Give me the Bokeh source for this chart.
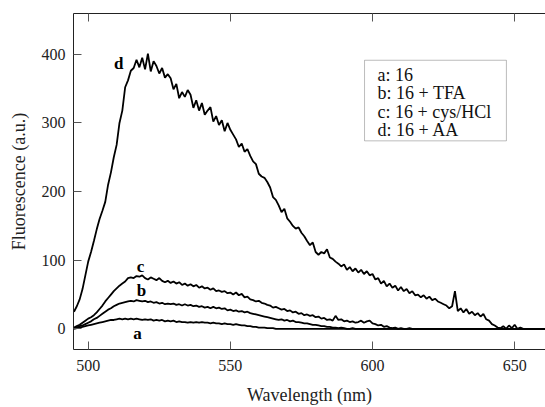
from bokeh.plotting import figure
from bokeh.models import (Range1d, LinearAxis, FixedTicker, Label, BoxAnnotation,
                          CustomLabelingPolicy)
from bokeh.embed import file_html
from bokeh.resources import INLINE

wavelength = list(range(495, 662))

curve_d = [
    25, 33, 43, 58, 78, 98, 112, 128, 145, 160,
    172, 185, 210, 228, 250, 268, 300, 318, 352, 362,
    376, 380, 392, 381, 395, 378, 401, 375, 390, 383,
    372, 380, 366, 371, 365, 349, 357, 336, 345, 338,
    348, 341, 322, 333, 318, 329, 312, 318, 323, 302,
    310, 297, 304, 288, 300, 290, 283, 276, 265, 270,
    258, 262, 252, 244, 240, 226, 222, 220, 214, 206,
    192, 188, 180, 170, 175, 161, 156, 150, 146, 148,
    140, 135, 128, 122, 126, 112, 108, 112, 110, 116,
    104, 102, 98, 95, 91, 94, 86, 90, 84, 88,
    82, 86, 80, 84, 78, 80, 72, 74, 66, 70,
    62, 66, 60, 63, 56, 61, 55, 58, 52, 55,
    49, 50, 46, 49, 44, 47, 42, 44, 40, 38,
    36, 34, 30, 33, 55, 26, 30, 24, 29, 22,
    25, 20, 23, 18, 22, 14, 12, 7, 5, 2,
    1, 4, 0, 5, 1, 6, 0, 2, 0, 0,
    0, 0, 0, 0, 0, 0, 0,
]

curve_c = [
    2, 4, 6, 9, 12, 15, 17, 20, 24, 29,
    34, 40, 45, 50, 55, 59, 63, 66, 69, 74,
    75, 74, 77, 76, 78, 74, 72, 75, 73, 71,
    74, 70, 68, 70, 67, 69, 66, 68, 64, 66,
    63, 65, 62, 64, 60, 62, 59, 60, 57, 59,
    55, 56, 54, 55, 52, 53, 50, 53, 49, 51,
    46, 47, 43, 42, 40, 41, 38, 37, 35, 34,
    31, 32, 30, 28, 29, 26, 27, 24, 25, 22,
    23, 20, 21, 19, 20, 17, 18, 15, 16, 13,
    14, 12, 19, 13, 14, 11, 12, 10, 11, 9,
    10, 12, 9, 11, 12, 8, 7, 5, 6, 3,
    4, 2, 1, 2, 0, 1, 0, 0, 1, 0,
    0, 0, 0, 0, 0, 0, 0, 0, 0, 0,
    0, 0, 0, 0, 0, 0, 0, 0, 0, 0,
    0, 0, 0, 0, 0, 0, 0, 0, 0, 0,
    0, 0, 0, 0, 0, 0, 0, 0, 0, 0,
    0, 0, 0, 0, 0, 0, 0,
]

curve_b = [
    1, 2, 4, 5, 7, 9, 11, 14, 16, 19,
    22, 25, 28, 30, 33, 35, 37, 38, 39, 40,
    41, 40, 42, 41, 40, 41, 39, 40, 38, 39,
    37, 38, 36, 37, 36, 37, 35, 36, 34, 36,
    34, 35, 33, 34, 32, 33, 31, 32, 30, 32,
    30, 31, 29, 30, 27, 28, 26, 27, 25, 26,
    24, 25, 23, 22, 21, 20, 19, 18, 17, 16,
    15, 14, 13, 14, 12, 13, 11, 12, 10, 10,
    9, 8, 8, 7, 6, 6, 5, 4, 4, 3,
    3, 2, 2, 1, 2, 1, 0, 0, 1, 0,
    0, 0, 0, 0, 0, 0, 0, 0, 0, 0,
    0, 0, 0, 0, 0, 0, 0, 0, 0, 0,
    0, 0, 0, 0, 0, 0, 0, 0, 0, 0,
    0, 0, 0, 0, 0, 0, 0, 0, 0, 0,
    0, 0, 0, 0, 0, 0, 0, 0, 0, 0,
    0, 0, 0, 0, 0, 0, 0, 0, 0, 0,
    0, 0, 0, 0, 0, 0, 0,
]

curve_a = [
    0, 1, 2, 3, 4, 5, 6, 7, 8, 9,
    10, 11, 12, 13, 13, 14, 15, 14, 15, 14,
    15, 14, 15, 14, 13, 14, 13, 14, 12, 13,
    12, 13, 11, 12, 11, 12, 10, 11, 10, 10,
    9, 10, 9, 10, 9, 10, 9, 9, 8, 9,
    8, 8, 7, 8, 7, 7, 6, 7, 6, 5,
    5, 4, 4, 3, 3, 2, 2, 2, 1, 1,
    1, 0, 0, 0, 0, 0, 0, 0, 0, 0,
    0, 0, 0, 0, 0, 0, 0, 0, 0, 0,
    0, 0, 0, 0, 0, 0, 0, 0, 0, 0,
    0, 0, 0, 0, 0, 0, 0, 0, 0, 0,
    0, 0, 0, 0, 0, 0, 0, 0, 0, 0,
    0, 0, 0, 0, 0, 0, 0, 0, 0, 0,
    0, 0, 0, 0, 0, 0, 0, 0, 0, 0,
    0, 0, 0, 0, 0, 0, 0, 0, 0, 0,
    0, 0, 0, 0, 0, 0, 0, 0, 0, 0,
    0, 0, 0, 0, 0, 0, 0,
]

x_ticks = [500, 550, 600, 650]
y_ticks = [0, 100, 200, 300, 400]

legend_lines = ["a: 16", "b: 16 + TFA", "c: 16 + cys/HCl", "d: 16 + AA"]
legend_y = [370.3, 343.2, 316.1, 289.0]

curve_names = ["a", "b", "c", "d"]
curve_label_x = [517.3, 518.7, 518.4, 510.7]
curve_label_y = [-7, 56.5, 91, 387]

FONT = "Liberation Serif"

p = figure(width=545, height=407, output_backend="svg", toolbar_location=None,
           x_range=Range1d(494.83, 660.85), y_range=Range1d(-30, 459.4),
           min_border_left=73, min_border_right=0, min_border_top=13,
           min_border_bottom=56,
           x_axis_label="Wavelength (nm)", y_axis_label="Fluorescence (a.u.)")
p.outline_line_color = None
p.grid.visible = False
p.background_fill_color = "white"
p.border_fill_color = "white"

for ax in [p.xaxis[0], p.yaxis[0]]:
    ax.major_tick_in = 8
    ax.major_tick_out = 0
    ax.minor_tick_line_color = None
    ax.axis_line_color = "#222222"
    ax.major_tick_line_color = "#555555"
    ax.major_label_text_font = FONT
    ax.major_label_text_font_size = "16px"
    ax.major_label_text_color = "#222222"
    ax.axis_label_text_font = FONT
    ax.axis_label_text_font_size = "18px"
    ax.axis_label_text_font_style = "normal"
    ax.axis_label_text_color = "#222222"

p.xaxis[0].ticker = FixedTicker(ticks=x_ticks)
p.yaxis[0].ticker = FixedTicker(ticks=y_ticks)
p.xaxis[0].major_label_standoff = 10
p.xaxis[0].axis_label_standoff = 11
p.yaxis[0].major_label_standoff = 8
p.yaxis[0].axis_label_standoff = 10

top = LinearAxis(ticker=FixedTicker(ticks=x_ticks), major_tick_in=8, major_tick_out=0,
                 minor_tick_line_color=None,
                 major_label_policy=CustomLabelingPolicy(code="return new Set()"),
                 major_label_standoff=0, axis_line_color="#222222",
                 major_tick_line_color="#555555")
p.add_layout(top, "above")

for ys in [curve_a, curve_b, curve_c, curve_d]:
    p.line(wavelength, ys, line_color="black", line_width=1.8)

for name, lx, ly in zip(curve_names, curve_label_x, curve_label_y):
    p.add_layout(Label(x=lx, y=ly, text=name, text_font=FONT, text_font_size="17px",
                       text_font_style="bold", text_align="center",
                       text_baseline="middle", text_color="black"))

p.add_layout(BoxAnnotation(left=597.2, right=647.1, bottom=273.9, top=391.3,
                           fill_color=None, fill_alpha=0, line_color="#222222",
                           line_width=1))
for txt, ly in zip(legend_lines, legend_y):
    p.add_layout(Label(x=601.8, y=ly, text=txt, text_font=FONT, text_font_size="18px",
                       text_font_style="normal",
                       text_baseline="middle", text_color="#111111"))

open("out.html", "w").write(file_html(p, INLINE))
